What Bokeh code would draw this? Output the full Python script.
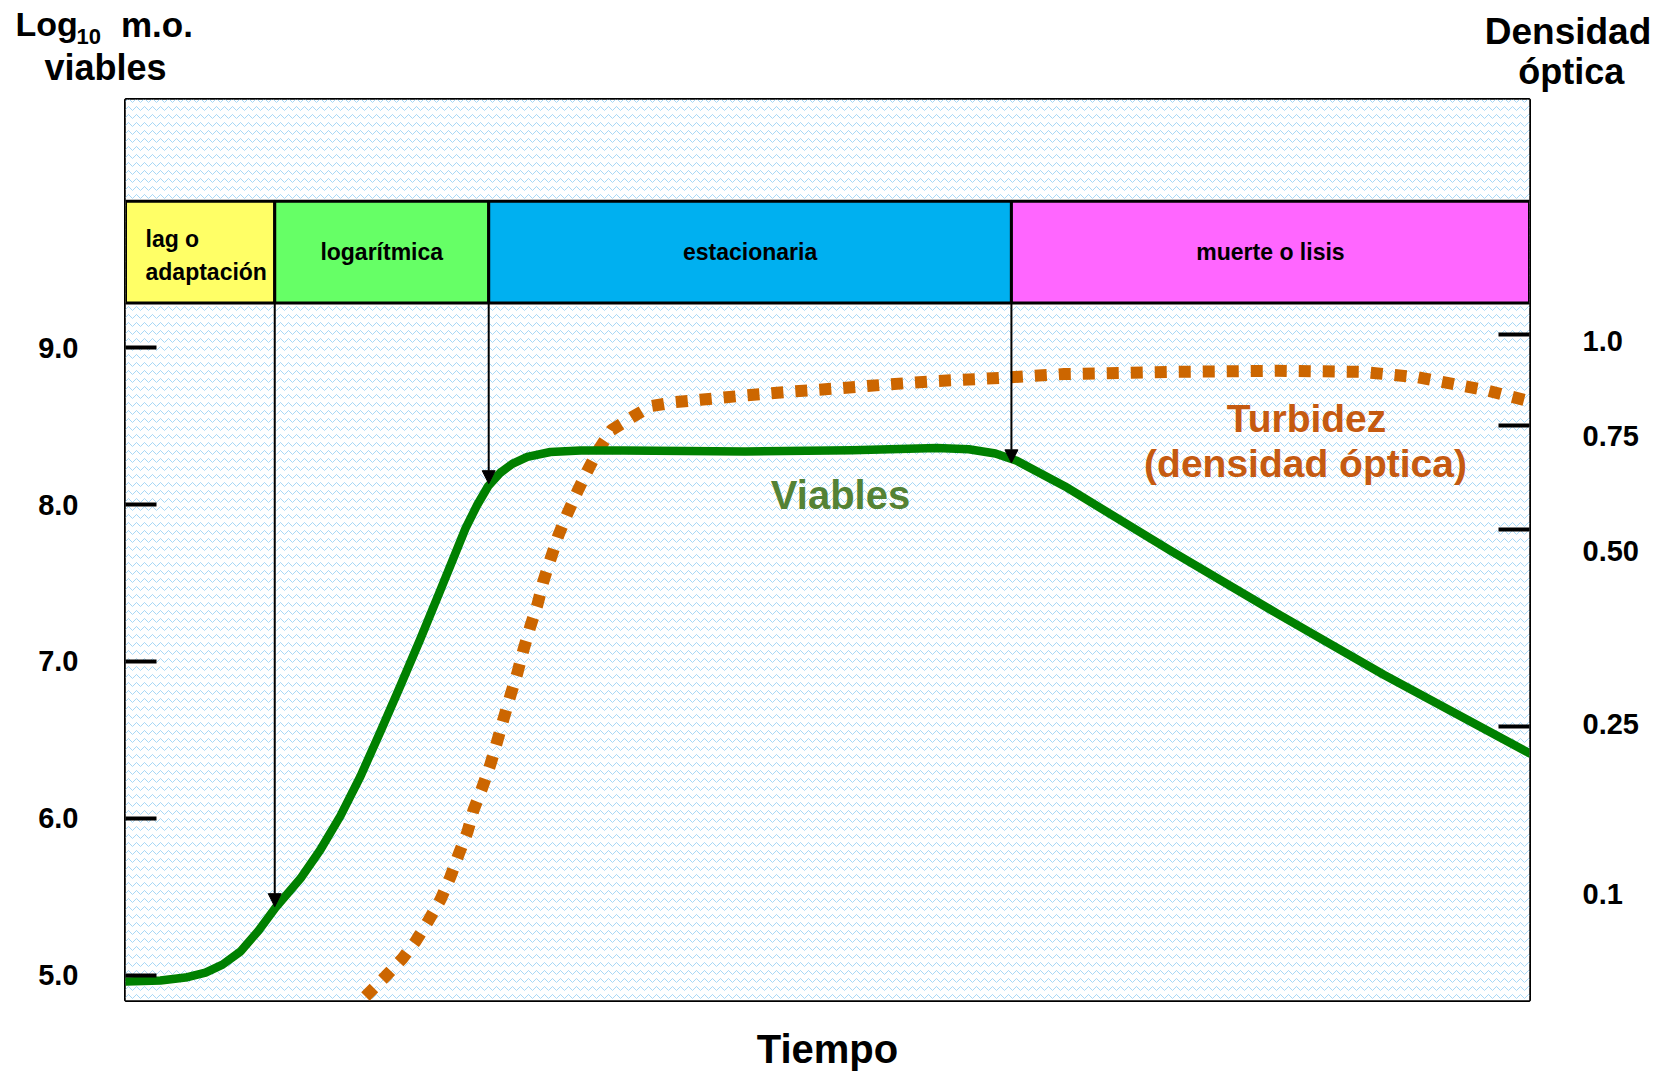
from bokeh.plotting import figure
from bokeh.layouts import column
from bokeh.models import (Range1d, LinearAxis, FixedTicker, PrintfTickFormatter, Label,
                          BoxAnnotation, Arrow, NormalHead, ColumnDataSource)
from bokeh.embed import file_html
from bokeh.resources import INLINE

# ---------------- data ----------------
# growth phases (time axis 0..100, arbitrary units)
phase_names = ["lag o\nadaptación", "logarítmica", "estacionaria", "muerte o lisis"]
phase_edges = [0.0, 10.63, 25.87, 63.10, 100.0]
phase_colors = ["#ffff66", "#66ff66", "#00b0f0", "#ff66ff"]

# viable cells, log10 m.o.
viable_t = [0.07, 2.49, 4.27, 5.70, 6.91, 8.19, 9.47, 10.68, 12.46, 13.88, 15.31, 16.73,
            18.16, 19.58, 21.00, 22.43, 23.35, 24.21, 25.06, 25.85, 26.70, 27.55, 28.62,
            30.26, 32.40, 35.46, 44.14, 51.73, 57.79, 60.06, 61.96, 63.48, 66.89, 74.46,
            82.04, 89.62, 100.0]
viable_log = [4.960, 4.966, 4.985, 5.017, 5.068, 5.151, 5.284, 5.430, 5.616, 5.800, 6.016,
              6.267, 6.553, 6.845, 7.143, 7.454, 7.657, 7.847, 7.999, 8.120, 8.203, 8.260,
              8.304, 8.335, 8.345, 8.345, 8.339, 8.346, 8.360, 8.353, 8.326, 8.279, 8.117,
              7.705, 7.305, 6.915, 6.415]

# turbidity (optical density), drawn on the same vertical scale as the figure
turb_t = [17.09, 18.51, 19.72, 20.65, 21.57, 22.43, 23.14, 23.71, 24.35, 24.78, 25.42,
          25.99, 26.49, 26.91, 27.41, 27.91, 28.34, 28.84, 29.33, 29.76, 30.26, 30.83,
          31.47, 32.18, 32.90, 33.68, 34.61, 36.10, 37.45, 39.16, 40.94, 44.29, 47.56,
          50.91, 54.47, 57.89, 61.37, 66.86, 74.47, 82.02, 88.07, 91.99, 97.04, 99.68]
turb_pos = [4.865, 4.992, 5.106, 5.214, 5.347, 5.481, 5.627, 5.766, 5.912, 6.051, 6.198,
            6.344, 6.496, 6.629, 6.781, 6.927, 7.073, 7.225, 7.359, 7.511, 7.650, 7.803,
            7.942, 8.082, 8.215, 8.348, 8.475, 8.558, 8.628, 8.653, 8.668, 8.697, 8.721,
            8.742, 8.767, 8.788, 8.803, 8.832, 8.846, 8.853, 8.846, 8.812, 8.726, 8.666]

# left axis ticks (log10 m.o. viables)
log_ticks = [5, 6, 7, 8, 9]
# right axis (densidad óptica): labels, where the labels sit and where the tick marks sit
od_labels = ["1.0", "0.75", "0.50", "0.25", "0.1"]
od_label_pos = [9.042, 8.434, 7.705, 6.603, 5.517]
od_tick_pos = [9.083, 8.502, 7.840, 6.584]

# arrows: tip heights on the viable curve at phase boundaries
arrow_tips = [5.437, 8.133, 8.266]

# ---------------- layout ----------------
W = 1667
TOP_H = 96                                  # strip holding the two axis titles
FL, FR, FT, FB = 125, 1529, 99, 1004        # frame edges in page px
H_MAIN = 1073 - TOP_H
X0, X1 = 0.0, 100.0
Y0, Y1 = 4.839, 10.582
band_bottom, band_top = 9.285, 9.933
FONT = "Liberation Sans"


def px2x(px):
    return X0 + (px - FL) / (FR - FL) * (X1 - X0)


def px2y(py):
    return Y1 - (py - FT) / (FB - FT) * (Y1 - Y0)


# ---------- title strip ----------
top = figure(width=W, height=TOP_H, output_backend="svg", toolbar_location=None,
             x_range=Range1d(0, W), y_range=Range1d(TOP_H, 0),
             x_axis_location=None, y_axis_location=None, min_border=0)
top.grid.visible = False
top.outline_line_color = None
top.background_fill_color = "white"
top.border_fill_color = "white"


def top_label(text, x, ymid, size, align):
    top.add_layout(Label(x=x, y=ymid, text=text, text_font=FONT, text_font_style="bold",
                         text_font_size=size, text_color="black", text_align=align,
                         text_baseline="middle"))


top_label("Log", 15, 23.5, "34px", "left")
top_label("10", 76, 36, "22px", "left")
top_label("m.o.", 120.5, 23.5, "35px", "left")
top_label("viables", 105, 67, "36px", "center")
top_label("Densidad", 1567.5, 30.5, "37px", "center")
top_label("óptica", 1570.8, 70.5, "36px", "center")

# ---------- main chart ----------
p = figure(width=W, height=H_MAIN, output_backend="svg", toolbar_location=None,
           x_range=Range1d(X0, X1), y_range=Range1d(Y0, Y1),
           min_border_left=FL, min_border_right=W - FR,
           min_border_top=FT - TOP_H, min_border_bottom=TOP_H + H_MAIN - FB)
p.grid.visible = False
p.background_fill_color = "white"
p.border_fill_color = "white"
p.outline_line_color = "black"
p.outline_line_width = 3

# keep each figure's own frame (no frame alignment inside the column)
for fig in (top, p):
    try:
        fig.frame_align = False
    except AttributeError:
        pass

# wavy light-blue background
p.add_layout(BoxAnnotation(fill_color="white", fill_alpha=1.0, line_color=None,
                           hatch_pattern="horizontal_wave", hatch_color="#a8d8f6",
                           hatch_scale=8, hatch_weight=1, level="underlay"))

# x axis
xa = p.xaxis[0]
xa.ticker = FixedTicker(ticks=[])
xa.axis_line_color = None
xa.major_tick_out = 0
xa.major_tick_in = 0
xa.minor_tick_out = 0
xa.minor_tick_in = 0
xa.major_label_standoff = 0
xa.axis_label = "Tiempo"
xa.axis_label_text_font = FONT
xa.axis_label_text_font_style = "bold"
xa.axis_label_text_font_size = "40px"
xa.axis_label_standoff = 26
xa.axis_label_text_color = "black"


def style_y(ax, standoff):
    ax.axis_line_color = None
    ax.major_tick_in = 31
    ax.major_tick_out = 0
    ax.minor_tick_in = 0
    ax.minor_tick_out = 0
    ax.major_tick_line_width = 4
    ax.major_tick_line_color = "black"
    ax.major_label_standoff = standoff
    ax.major_label_text_font = FONT
    ax.major_label_text_font_style = "bold"
    ax.major_label_text_font_size = "29px"
    ax.major_label_text_color = "black"


ya = p.yaxis[0]
ya.ticker = FixedTicker(ticks=log_ticks)
ya.formatter = PrintfTickFormatter(format="%.1f")
style_y(ya, 47)

# right axis: labels on major ticks (no mark), tick marks as minor ticks
yr = LinearAxis(ticker=FixedTicker(ticks=od_label_pos, minor_ticks=od_tick_pos),
                major_label_overrides={v: t for v, t in zip(od_label_pos, od_labels)})
style_y(yr, 53)
yr.major_tick_in = 0
yr.minor_tick_in = 31
yr.minor_tick_line_width = 4
yr.minor_tick_line_color = "black"
p.add_layout(yr, "right")

# phase band
band = ColumnDataSource(dict(left=phase_edges[:-1], right=phase_edges[1:],
                             color=phase_colors))
p.quad(left="left", right="right", bottom=band_bottom, top=band_top, source=band,
       fill_color="color", line_color="black", line_width=3)

band_mid = (band_bottom + band_top) / 2
for i, name in enumerate(phase_names):
    if i == 0:
        p.add_layout(Label(x=px2x(145), y=band_mid - 0.02, text=name, text_font=FONT,
                           text_font_style="bold", text_font_size="23px",
                           text_align="left", text_baseline="middle",
                           text_line_height=1.28, text_color="black"))
    else:
        p.add_layout(Label(x=(phase_edges[i] + phase_edges[i + 1]) / 2, y=band_mid,
                           text=name, text_font=FONT, text_font_style="bold",
                           text_font_size="23px", text_align="center",
                           text_baseline="middle", text_color="black"))

# curves
p.line(turb_t, turb_pos, line_color="#cc6600", line_width=12, line_dash="12 12",
       line_cap="butt")
p.line(viable_t, viable_log, line_color="#008000", line_width=8.5, line_join="round",
       line_cap="round")

# arrows
for x, tip in zip(phase_edges[1:4], arrow_tips):
    p.add_layout(Arrow(end=NormalHead(size=13, fill_color="black", line_color="black",
                                      line_width=1),
                       x_start=x, y_start=band_bottom, x_end=x, y_end=tip,
                       line_color="black", line_width=2))

# curve labels
p.add_layout(Label(x=px2x(840), y=px2y(496), text="Viables", text_font=FONT,
                   text_font_style="bold", text_font_size="40px", text_color="#548235",
                   text_align="center", text_baseline="middle"))
p.add_layout(Label(x=px2x(1306), y=px2y(419), text="Turbidez", text_font=FONT,
                   text_font_style="bold", text_font_size="39px", text_color="#c55a11",
                   text_align="center", text_baseline="middle"))
p.add_layout(Label(x=px2x(1305), y=px2y(465), text="(densidad óptica)", text_font=FONT,
                   text_font_style="bold", text_font_size="39px", text_color="#c55a11",
                   text_align="center", text_baseline="middle"))

layout = column(top, p, spacing=0)
open("out.html", "w").write(file_html(layout, INLINE))
